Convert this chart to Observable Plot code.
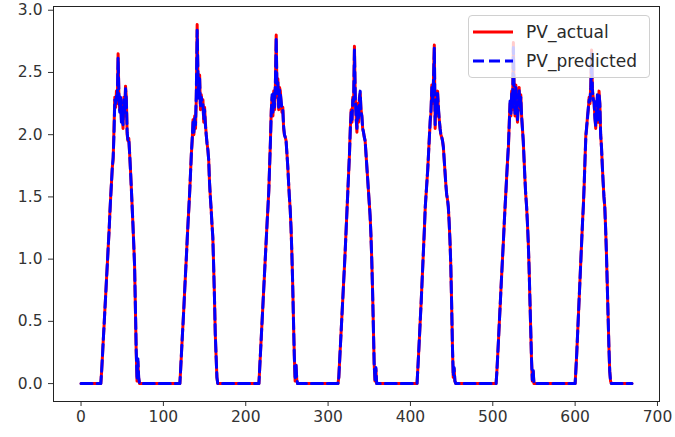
<!DOCTYPE html>
<html>
<head>
<meta charset="utf-8">
<script src="https://cdn.jsdelivr.net/npm/d3@7"></script>
<script src="https://cdn.jsdelivr.net/npm/@observablehq/plot@0.6"></script>
<style>
  html, body { margin: 0; padding: 0; background: #fff; }
  #wrap { position: relative; width: 675px; height: 437px; font-family: "DejaVu Sans", sans-serif; }
  #legend { position: absolute; left: 468px; top: 15px; width: 182px; height: 63px; box-sizing: border-box;
    border: 1px solid #d0d0d0; border-radius: 4px; background: rgba(255,255,255,0.8); }
  .lrow { position: absolute; left: 4px; height: 20px; display: flex; align-items: center; font-size: 17px; color: #2a2a2a; }
  .lrow svg { margin-right: 13px; }
</style>
</head>
<body>
<div id="wrap"></div>
<script>
// ---- data ----
const seriesNames = ["PV_actual", "PV_predicted"];
const nPoints = 670;
const stepsPerDay = 96;
const activeFrom = 24; // first active index within each day
const xTicks = [0, 100, 200, 300, 400, 500, 600, 700];
const yTicks = [0.0, 0.5, 1.0, 1.5, 2.0, 2.5, 3.0];

// actual values, day by day, for in-day indices 24..71
const actualDay1 = [0.00,0.10,0.22,0.35,0.47,0.60,0.72,0.85,0.97,1.10,1.22,1.37,1.50,1.62,1.74,1.80,2.05,2.30,2.22,2.35,2.25,2.65,2.30,2.20,2.28,2.12,2.20,2.05,2.30,2.15,2.39,2.30,2.00,1.95,1.97,1.85,1.72,1.58,1.43,1.28,1.12,0.95,0.60,0.25,0.02,0.18,0.04,0.00];
const actualDay2 = [0.00,0.12,0.25,0.38,0.50,0.63,0.77,0.90,1.03,1.17,1.30,1.42,1.55,1.70,1.85,1.95,2.12,2.00,2.15,2.05,2.30,2.886,2.45,2.30,2.48,2.20,2.32,2.25,2.28,2.10,2.22,2.10,2.00,1.93,1.88,1.80,1.62,1.50,1.40,1.28,1.18,0.95,0.70,0.40,0.22,0.05,0.00,0.00];
const actualDay3 = [0.00,0.13,0.26,0.39,0.52,0.65,0.78,0.91,1.04,1.17,1.30,1.42,1.55,1.75,1.95,2.20,2.30,2.15,2.35,2.20,2.40,2.80,2.30,2.45,2.20,2.38,2.35,2.25,2.18,2.22,2.05,2.00,1.98,1.95,1.85,1.75,1.62,1.50,1.40,1.25,1.05,0.80,0.50,0.22,0.02,0.15,0.03,0.00];
const actualDay4 = [0.00,0.05,0.18,0.31,0.44,0.57,0.70,0.83,0.96,1.10,1.25,1.40,1.55,1.70,1.85,2.05,2.20,2.10,2.30,2.25,2.71,2.30,2.15,2.02,2.25,2.10,2.30,2.33,2.20,2.15,2.05,2.02,1.98,1.95,1.85,1.75,1.65,1.55,1.45,1.35,1.20,1.00,0.75,0.45,0.15,0.02,0.12,0.00];
const actualDay5 = [0.00,0.12,0.25,0.38,0.52,0.65,0.80,0.95,1.10,1.25,1.42,1.52,1.62,1.72,1.85,1.98,2.10,2.18,2.40,2.25,2.45,2.72,2.05,2.30,2.15,2.35,2.20,2.12,2.05,2.00,1.98,1.95,1.90,1.80,1.70,1.60,1.52,1.48,1.42,1.30,1.15,0.95,0.65,0.30,0.05,0.12,0.02,0.00];
const actualDay6 = [0.00,0.10,0.23,0.36,0.50,0.63,0.77,0.90,1.03,1.16,1.30,1.43,1.55,1.68,1.80,1.90,2.10,2.25,2.15,2.35,2.20,2.74,2.30,2.15,2.40,2.20,2.10,2.25,2.38,2.20,2.32,2.15,2.05,1.95,1.80,1.65,1.52,1.43,1.30,1.15,0.95,0.70,0.45,0.20,0.02,0.10,0.00,0.00];
const actualDay7 = [0.00,0.12,0.25,0.40,0.55,0.70,0.85,1.00,1.15,1.30,1.43,1.60,1.80,2.00,2.05,2.15,2.20,2.30,2.25,2.40,2.68,2.35,2.30,2.25,2.15,2.05,2.20,2.30,2.10,2.35,2.25,2.00,1.90,1.75,1.62,1.50,1.42,1.25,1.05,0.80,0.55,0.30,0.10,0.02,0.00,0.00,0.00,0.00];

// predicted values, day by day, for in-day indices 24..71
const predictedDay1 = [0.00,0.10,0.22,0.35,0.47,0.60,0.72,0.85,0.97,1.10,1.22,1.37,1.50,1.62,1.74,1.82,2.00,2.28,2.25,2.32,2.28,2.62,2.32,2.18,2.30,2.10,2.22,2.08,2.28,2.18,2.37,2.28,2.02,1.95,1.96,1.85,1.72,1.58,1.43,1.28,1.12,0.95,0.62,0.27,0.03,0.20,0.05,0.00];
const predictedDay2 = [0.00,0.12,0.25,0.38,0.50,0.63,0.77,0.90,1.03,1.17,1.30,1.42,1.55,1.70,1.85,1.97,2.10,2.02,2.13,2.08,2.35,2.84,2.48,2.28,2.45,2.22,2.30,2.27,2.25,2.12,2.20,2.08,2.00,1.93,1.88,1.80,1.62,1.50,1.40,1.28,1.18,0.95,0.70,0.40,0.22,0.05,0.00,0.00];
const predictedDay3 = [0.00,0.13,0.26,0.39,0.52,0.65,0.78,0.91,1.04,1.17,1.30,1.42,1.55,1.75,1.95,2.18,2.32,2.18,2.33,2.22,2.42,2.78,2.33,2.42,2.22,2.36,2.33,2.27,2.20,2.20,2.07,2.00,1.98,1.95,1.85,1.75,1.62,1.50,1.40,1.25,1.05,0.80,0.50,0.22,0.03,0.16,0.03,0.00];
const predictedDay4 = [0.00,0.05,0.18,0.31,0.44,0.57,0.70,0.83,0.96,1.10,1.25,1.40,1.55,1.70,1.85,2.05,2.18,2.12,2.28,2.27,2.68,2.32,2.13,2.05,2.23,2.12,2.28,2.35,2.18,2.15,2.05,2.02,1.98,1.95,1.85,1.75,1.65,1.55,1.45,1.35,1.20,1.00,0.75,0.45,0.15,0.03,0.13,0.00];
const predictedDay5 = [0.00,0.12,0.25,0.38,0.52,0.65,0.80,0.95,1.10,1.25,1.42,1.52,1.62,1.72,1.85,1.98,2.12,2.20,2.38,2.27,2.43,2.70,2.08,2.28,2.17,2.33,2.22,2.12,2.05,2.00,1.98,1.95,1.90,1.80,1.70,1.60,1.52,1.48,1.42,1.30,1.15,0.95,0.65,0.30,0.06,0.13,0.02,0.00];
const predictedDay6 = [0.00,0.10,0.23,0.36,0.50,0.63,0.77,0.90,1.03,1.16,1.30,1.43,1.55,1.68,1.80,1.92,2.08,2.27,2.17,2.33,2.22,2.70,2.32,2.17,2.38,2.22,2.12,2.23,2.36,2.22,2.30,2.15,2.05,1.95,1.80,1.65,1.52,1.43,1.30,1.15,0.95,0.70,0.45,0.20,0.03,0.11,0.00,0.00];
const predictedDay7 = [0.00,0.12,0.25,0.40,0.55,0.70,0.85,1.00,1.15,1.30,1.43,1.60,1.80,1.98,2.07,2.13,2.22,2.28,2.27,2.38,2.65,2.37,2.28,2.27,2.13,2.07,2.18,2.32,2.12,2.33,2.25,2.00,1.90,1.75,1.62,1.50,1.42,1.25,1.05,0.80,0.55,0.30,0.10,0.02,0.00,0.00,0.00,0.00];

const actualDays = [actualDay1, actualDay2, actualDay3, actualDay4, actualDay5, actualDay6, actualDay7];
const predictedDays = [predictedDay1, predictedDay2, predictedDay3, predictedDay4, predictedDay5, predictedDay6, predictedDay7];

// ---- build table ----
function valueAt(days, i) {
  const k = Math.floor(i / stepsPerDay);
  const r = i - k * stepsPerDay - activeFrom;
  if (k < days.length && r >= 0 && r < days[k].length) return days[k][r];
  return 0;
}
const rows = [];
for (let i = 0; i < nPoints; i++) {
  rows.push({x: i, actual: valueAt(actualDays, i), predicted: valueAt(predictedDays, i)});
}

const chart = Plot.plot({
  width: 675,
  height: 437,
  marginLeft: 53,
  marginRight: 16,
  marginTop: 6,
  marginBottom: 36,
  style: {fontFamily: "DejaVu Sans, sans-serif", fontSize: "15.5px", color: "#333", background: "#fff"},
  x: {domain: [-33.45, 702.45]},
  y: {domain: [-0.144, 3.03]},
  marks: [
    Plot.axisX({ticks: xTicks, tickSize: 5, tickPadding: 4, label: null, tickFormat: d => String(d), stroke: "#333", fontSize: 15.5}),
    Plot.axisY({ticks: yTicks, tickSize: 5, tickPadding: 6, label: null, tickFormat: d => d.toFixed(1), stroke: "#333", fontSize: 15.5}),
    Plot.line(rows, {x: "x", y: "actual", stroke: "#ff0000", strokeWidth: 3, strokeLinejoin: "round"}),
    Plot.line(rows, {x: "x", y: "predicted", stroke: "#0000ff", strokeWidth: 3, strokeDasharray: "11,5", strokeLinejoin: "round"}),
    Plot.frame({stroke: "#222", strokeWidth: 1})
  ]
});

const wrap = document.getElementById("wrap");
wrap.appendChild(chart);

const legend = document.createElement("div");
legend.id = "legend";
const colors = ["#ff0000", "#0000ff"];
const dashes = [null, "11,5"];
seriesNames.forEach((name, i) => {
  const row = document.createElement("div");
  row.className = "lrow";
  row.style.top = (6 + i * 29) + "px";
  row.innerHTML = `<svg width="40" height="10"><line x1="0" x2="40" y1="5" y2="5" stroke="${colors[i]}" stroke-width="3" ${dashes[i] ? `stroke-dasharray="${dashes[i]}"` : ""}/></svg><span>${name}</span>`;
  legend.appendChild(row);
});
wrap.appendChild(legend);
</script>
</body>
</html>
